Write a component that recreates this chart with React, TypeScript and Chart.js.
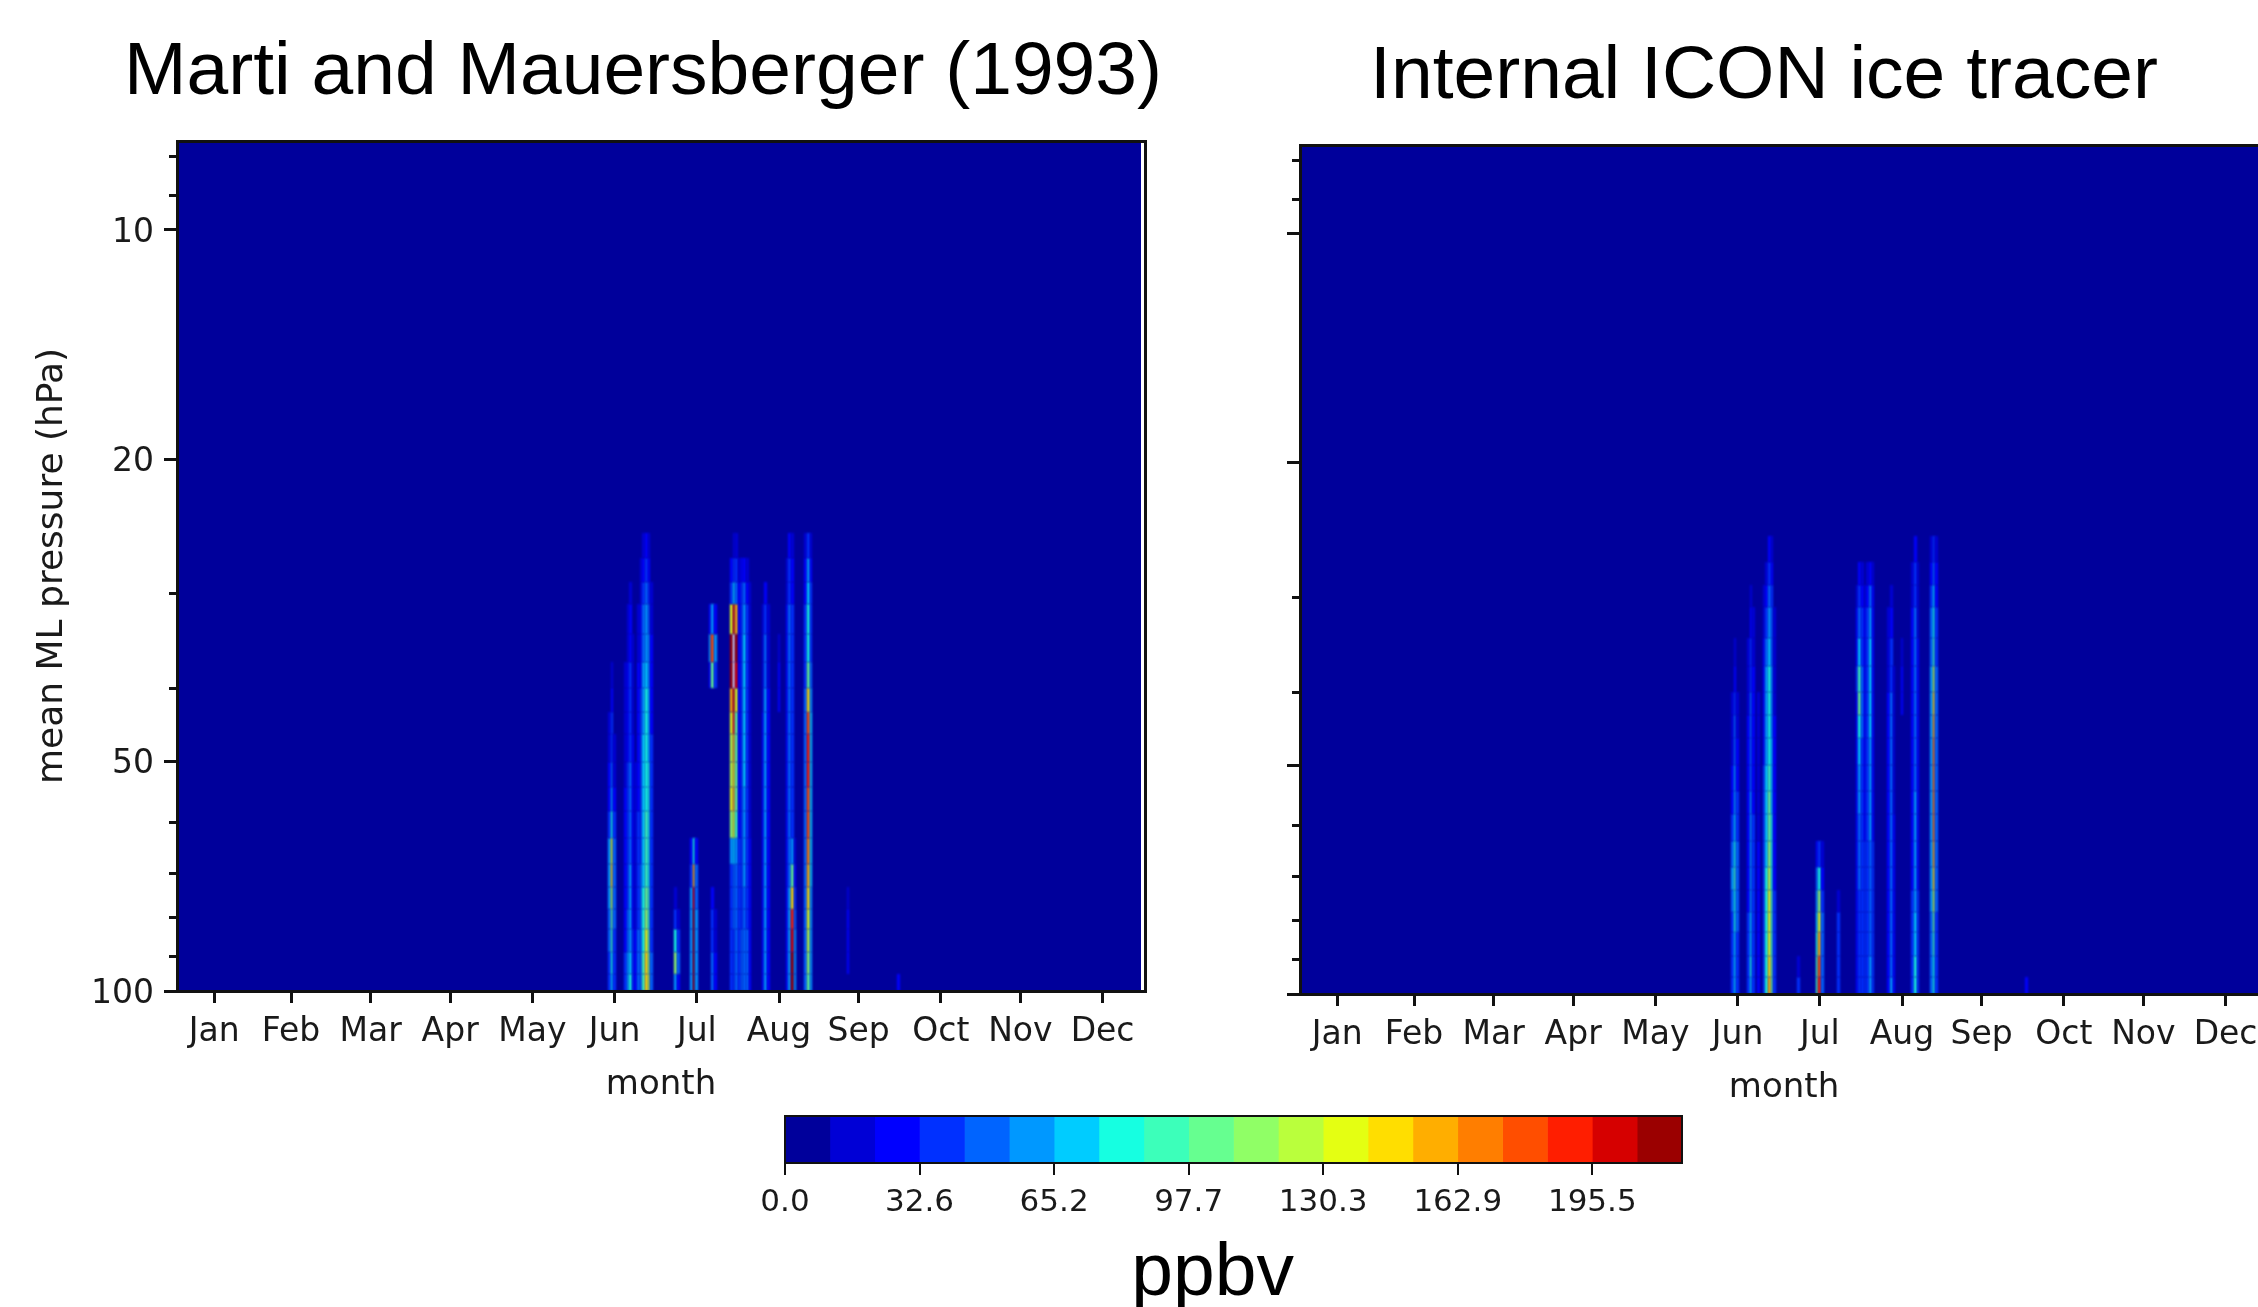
import { useEffect, useRef } from 'react';
import { Chart, registerables } from 'chart.js';

Chart.register(...registerables);

// ---------------- data ----------------
const MONTHS = ['Jan', 'Feb', 'Mar', 'Apr', 'May', 'Jun', 'Jul', 'Aug', 'Sep', 'Oct', 'Nov', 'Dec'];
const MONTH_TICK_DAYS = [14, 43, 73, 103, 134, 165, 196, 227, 257, 288, 318, 349];
const DAY_RANGE = [0, 365];
const FIELD_DAY_EXTENT = [0, 363.6];

const PRESSURE_RANGE = [7.64, 100];
const PRESSURE_MAJOR = [10, 20, 50, 100];
const PRESSURE_MINOR = [8, 9, 30, 40, 60, 70, 80, 90];
// edges of the model layers (hPa), bottom to top
const LEVEL_EDGES_HPA = [100, 95, 89, 83, 78, 73, 68, 63, 58, 54, 50, 46, 43, 40, 37, 34, 31, 29, 27, 25, 23, 21.5];

// contour levels of the colour bar (ppbv)
const PPBV_LEVELS = [0, 10.86, 21.72, 32.58, 43.44, 54.3, 65.16, 76.02, 86.88, 97.74, 108.6, 119.46, 130.32, 141.18, 152.04, 162.9, 173.76, 184.62, 195.48, 206.34, 217.2];
const CBAR_TICKS = [0, 32.58, 65.16, 97.74, 130.32, 162.9, 195.48];
const JET_COLORS = ['#00009b', '#0000d6', '#0000ff', '#0030ff', '#0064ff', '#0098ff', '#00ccff', '#16ffe1', '#3cffba', '#66ff90', '#90ff66', '#baff3c', '#e4ff12', '#ffde00', '#ffae00', '#ff7e00', '#ff4e00', '#ff1e00', '#d60000', '#9b0000'];

// Marti and Mauersberger (1993): day of year and ppbv per layer (bottom to top)
const MARTI_DAYS = [163, 164, 165, 169, 170, 171, 172, 173, 174, 175, 176, 177, 178, 179, 188, 189, 194, 195, 196, 201, 202, 203, 209, 210, 211, 212, 213, 214, 215, 216, 221, 222, 223, 227, 230, 231, 232, 233, 237, 238, 239, 253, 272];
const MARTI_PPBV = [
  [38, 38, 49, 49, 60, 60, 60, 38, 27, 27, 16, 16],
  [70, 81, 92, 103, 125, 147, 136, 81, 60, 49, 38, 38, 27, 16],
  [38, 38, 38, 49, 49, 49, 49, 38, 27, 16, 16],
  [38, 38, 27, 27, 27, 27, 27, 27, 27, 16, 16, 16, 16, 16],
  [60, 60, 49, 49, 38, 38, 38, 38, 38, 38, 27, 27, 27, 27, 16, 16],
  [81, 70, 60, 60, 60, 60, 49, 49, 49, 49, 38, 38, 38, 38, 27, 27, 16],
  [38, 38, 38, 27, 27, 27, 27, 27, 27, 27, 27, 16, 16, 16, 16],
  [27, 27, 27, 16, 16, 16, 16, 16, 16, 16],
  [49, 49, 49, 38, 38, 38, 38, 38, 27, 27, 27, 27, 27, 27, 16, 16],
  [49, 49, 49, 49, 49, 49, 38, 38, 38, 38, 38, 38, 38, 27, 27, 27, 16, 16],
  [92, 92, 81, 81, 81, 70, 70, 70, 70, 70, 70, 60, 60, 60, 49, 49, 38, 27, 16],
  [147, 147, 136, 114, 103, 92, 92, 92, 81, 81, 81, 81, 81, 70, 60, 60, 49, 38, 27],
  [125, 114, 103, 92, 92, 81, 81, 81, 81, 81, 70, 70, 70, 60, 60, 49, 38, 27, 16],
  [49, 49, 38, 38, 38, 38, 38, 38, 38, 38, 38, 27, 27, 27, 27, 16, 16],
  [60, 114, 81, 38, 16],
  [27, 49, 38, 16],
  [60, 60, 60, 60, 60, 38, 27],
  [212, 212, 212, 212, 201, 158, 81],
  [60, 60, 60, 60, 49, 49, 27],
  [0, 0, 0, 0, 0, 0, 0, 0, 0, 0, 0, 0, 0, 27, 60, 27],
  [49, 49, 38, 38, 27, 0, 0, 0, 0, 0, 0, 0, 0, 103, 179, 60],
  [27, 27, 16, 16, 0, 0, 0, 0, 0, 0, 0, 0, 0, 38, 60, 27],
  [38, 38, 38, 38, 38, 38, 60, 114, 136, 125, 125, 136, 158, 212, 212, 136, 38, 27],
  [38, 38, 38, 49, 49, 49, 70, 136, 158, 147, 158, 190, 201, 230, 230, 201, 70, 38, 16],
  [49, 49, 49, 49, 49, 49, 60, 92, 103, 103, 103, 103, 136, 201, 212, 158, 49, 38, 16],
  [38, 38, 38, 38, 38, 38, 38, 27, 27, 27, 27, 27, 27, 27, 27, 27, 27, 16],
  [49, 49, 49, 38, 38, 38, 38, 38, 38, 38, 38, 38, 38, 38, 38, 38, 38, 27],
  [49, 49, 49, 49, 49, 60, 60, 60, 60, 70, 70, 70, 70, 70, 70, 60, 49, 27],
  [49, 49, 49, 38, 38, 38, 38, 38, 38, 38, 38, 38, 38, 38, 38, 38, 27, 16],
  [27, 27, 27, 27, 27, 27, 27, 16, 16, 16, 16, 16, 16, 16, 16, 16, 16],
  [27, 27, 27, 27, 27, 27, 27, 27, 27, 27, 27, 27, 16, 16, 16, 16],
  [60, 60, 60, 60, 60, 60, 60, 60, 60, 60, 60, 60, 60, 49, 49, 38, 27],
  [27, 27, 27, 27, 27, 27, 27, 27, 27, 27, 27, 27, 27, 16, 16, 16],
  [0, 0, 0, 0, 0, 0, 0, 0, 0, 0, 0, 0, 27, 27, 16],
  [27, 27, 27, 27, 27, 27, 27, 27, 27, 27, 27, 27, 27, 27, 27, 27, 16, 16],
  [60, 60, 60, 60, 60, 49, 49, 49, 49, 49, 49, 49, 49, 49, 49, 49, 38, 38, 27],
  [212, 212, 201, 190, 147, 103, 60, 38, 38, 38, 38, 38, 38, 38, 38, 38, 27, 27, 16],
  [60, 60, 60, 49, 38, 27, 16],
  [49, 49, 49, 49, 49, 49, 49, 49, 49, 49, 49, 49, 49, 38, 38, 38, 27, 27, 16],
  [103, 114, 125, 136, 147, 158, 168, 179, 179, 190, 190, 179, 147, 103, 81, 81, 70, 60, 38],
  [60, 60, 60, 60, 60, 70, 70, 70, 70, 70, 70, 70, 60, 49, 38, 38, 38, 27, 16],
  [0, 27, 27, 27, 16],
  [27],
];

// Internal ICON ice tracer
const ICON_DAYS = [163, 164, 165, 169, 170, 171, 173, 175, 176, 177, 178, 179, 188, 195, 196, 197, 203, 210, 211, 212, 213, 214, 215, 216, 222, 223, 224, 227, 231, 232, 233, 238, 239, 240, 274];
const ICON_PPBV = [
  [38, 38, 38, 38, 49, 60, 49, 38, 27, 27, 16, 16, 16],
  [70, 70, 70, 81, 81, 92, 81, 70, 60, 60, 49, 49, 38, 27, 16],
  [38, 38, 38, 49, 49, 49, 49, 38, 38, 27, 27, 16, 16],
  [38, 38, 38, 38, 27, 27, 27, 27, 27, 27, 27, 27, 16, 16, 16],
  [70, 81, 70, 70, 60, 60, 60, 60, 60, 49, 49, 49, 49, 38, 38, 27, 16],
  [38, 38, 38, 38, 38, 38, 38, 38, 27, 27, 27, 27, 27, 27, 16, 16],
  [27, 27, 27, 27, 27, 27, 27, 16, 16, 16, 16, 16, 16],
  [38, 38, 38, 38, 38, 38, 38, 38, 38, 38, 27, 27, 27, 27, 27, 16, 16],
  [81, 81, 81, 81, 81, 81, 70, 70, 70, 70, 60, 60, 60, 60, 49, 38, 27, 16],
  [158, 147, 136, 136, 136, 125, 114, 103, 103, 92, 81, 81, 81, 81, 70, 60, 49, 38, 27],
  [103, 103, 92, 92, 92, 81, 81, 81, 70, 70, 70, 60, 60, 60, 49, 49, 38, 27, 16],
  [38, 38, 38, 38, 38, 27, 27, 27, 27, 27, 27, 27, 16, 16, 16, 16],
  [38, 16],
  [92, 92, 81, 70, 60, 49, 27],
  [190, 179, 158, 136, 114, 81, 38],
  [49, 49, 49, 49, 38, 27, 16],
  [38, 38, 38, 38, 16],
  [27, 27, 27, 27, 27, 27, 27, 27, 27, 27, 27, 27, 27, 38, 27, 27, 16],
  [38, 38, 38, 38, 38, 49, 49, 49, 60, 60, 70, 81, 103, 92, 70, 49, 38, 27],
  [38, 38, 38, 38, 38, 38, 38, 38, 38, 38, 38, 49, 49, 49, 38, 38, 27, 16],
  [38, 38, 38, 38, 38, 38, 38, 27, 27, 27, 27, 27, 27, 27, 27, 27, 16],
  [38, 38, 38, 38, 38, 38, 38, 38, 38, 38, 38, 38, 38, 38, 38, 38, 27, 16],
  [60, 60, 49, 49, 49, 49, 49, 60, 60, 60, 60, 70, 70, 70, 70, 60, 49, 27],
  [38, 38, 38, 38, 38, 38, 38, 27, 27, 27, 27, 27, 27, 27, 27, 27, 27, 16],
  [27, 27, 27, 27, 27, 27, 27, 27, 27, 27, 27, 27, 27, 16, 16, 16],
  [60, 49, 49, 49, 49, 49, 49, 49, 49, 49, 49, 49, 49, 38, 38, 27, 16],
  [27, 27, 27, 27, 27, 27, 27, 27, 16, 16, 16, 16, 16, 16],
  [0, 0, 0, 0, 0, 0, 0, 0, 0, 0, 0, 0, 27, 27, 16],
  [38, 38, 38, 38, 38, 27, 27, 27, 27, 27, 27, 27, 27, 27, 27, 27, 16, 16],
  [81, 81, 70, 70, 60, 60, 60, 60, 60, 49, 49, 49, 49, 49, 49, 49, 38, 38, 27],
  [38, 38, 38, 38, 38, 27, 27, 27, 27, 27, 27, 27, 27, 27, 27, 16, 16, 16],
  [49, 49, 49, 49, 60, 60, 60, 60, 60, 60, 60, 60, 60, 60, 49, 49, 38, 27, 16],
  [81, 81, 92, 103, 125, 147, 158, 168, 168, 168, 168, 158, 147, 125, 92, 81, 70, 49, 38],
  [38, 38, 38, 38, 49, 49, 49, 49, 49, 49, 49, 49, 49, 49, 38, 38, 27, 27, 16],
  [27],
];

// ---------------- helpers ----------------
const INK = '#1a1a1a';
const SPINE = '#111111';
const TICK_FONT = { family: 'DejaVu Sans', size: 33 };

function colorFor(v: number): string | null {
  if (v >= PPBV_LEVELS[PPBV_LEVELS.length - 1]) return '#ffffff';
  for (let k = JET_COLORS.length - 1; k >= 1; k--) {
    if (v >= PPBV_LEVELS[k]) return JET_COLORS[k];
  }
  return null;
}

function buildCells(days: number[], ppbv: number[][]) {
  const cells: any[] = [];
  days.forEach((d, j) => {
    ppbv[j].forEach((v, i) => {
      if (v > 0) {
        cells.push({ x: d, y: Math.sqrt(LEVEL_EDGES_HPA[i] * LEVEL_EDGES_HPA[i + 1]), v, level: i });
      }
    });
  });
  return cells;
}

const iceFieldPlugin = {
  id: 'iceField',
  beforeDatasetsDraw(chart: any, _args: any, opts: any) {
    const { ctx, chartArea: a } = chart;
    const xs = chart.scales.x;
    const ys = chart.scales.y;
    ctx.save();
    ctx.beginPath();
    ctx.rect(a.left, a.top, a.right - a.left, a.bottom - a.top);
    ctx.clip();
    const fx0 = Math.round(xs.getPixelForValue(opts.extent[0]));
    const fx1 = Math.round(xs.getPixelForValue(opts.extent[1]));
    ctx.fillStyle = JET_COLORS[0];
    ctx.fillRect(fx0, a.top, fx1 - fx0, a.bottom - a.top);
    ctx.filter = `blur(${opts.soften}px)`;
    for (const pt of chart.data.datasets[0].data) {
      const c = colorFor(pt.v);
      if (!c) continue;
      const xa = Math.round(xs.getPixelForValue(pt.x - 0.5));
      const xb = Math.round(xs.getPixelForValue(pt.x + 0.5));
      const ya = Math.round(ys.getPixelForValue(LEVEL_EDGES_HPA[pt.level]));
      const yb = Math.round(ys.getPixelForValue(LEVEL_EDGES_HPA[pt.level + 1]));
      ctx.fillStyle = c;
      ctx.fillRect(xa, Math.min(ya, yb), xb - xa, Math.abs(yb - ya));
    }
    ctx.filter = 'none';
    ctx.restore();
  },
};

const minorTicksPlugin = {
  id: 'minorTicks',
  afterDraw(chart: any, _args: any, opts: any) {
    const { ctx, chartArea: a } = chart;
    const ys = chart.scales.y;
    ctx.save();
    ctx.strokeStyle = opts.color;
    ctx.lineWidth = opts.width;
    for (const v of opts.values) {
      const y = Math.round(ys.getPixelForValue(v)) + 0.5;
      ctx.beginPath();
      ctx.moveTo(a.left - opts.length, y);
      ctx.lineTo(a.left, y);
      ctx.stroke();
    }
    ctx.restore();
  },
};

const cbarFramePlugin = {
  id: 'cbarFrame',
  afterDatasetsDraw(chart: any, _args: any, opts: any) {
    const { ctx, chartArea: a } = chart;
    ctx.save();
    ctx.strokeStyle = opts.color;
    ctx.lineWidth = opts.width;
    ctx.strokeRect(a.left, a.top, a.right - a.left, a.bottom - a.top);
    ctx.restore();
  },
};

type PanelSpec = {
  title: string;
  days: number[];
  ppbv: number[][];
  yLabels: boolean;
  titlePad: { top: number; bottom: number };
  yWidth: number;
  rightWidth: number;
  padBottom: number;
};

function panelConfig(spec: PanelSpec): any {
  const spine = { display: true, color: SPINE, width: 3, z: 1 };
  return {
    type: 'scatter',
    data: {
      datasets: [{ label: spec.title, data: buildCells(spec.days, spec.ppbv), pointRadius: 0, pointHoverRadius: 0, pointHitRadius: 0 }],
    },
    options: {
      animation: false,
      responsive: false,
      events: [],
      layout: { padding: { left: 0, right: 0, top: 0, bottom: spec.padBottom } },
      plugins: {
        legend: { display: false },
        tooltip: { enabled: false },
        title: {
          display: true,
          text: spec.title,
          color: '#000',
          font: { family: 'Liberation Sans', size: 75, lineHeight: 1, weight: 'normal' },
          padding: spec.titlePad,
        },
        iceField: { extent: FIELD_DAY_EXTENT, soften: 0.8 },
        minorTicks: { values: PRESSURE_MINOR, length: 8, width: 3, color: SPINE },
      },
      scales: {
        x: {
          type: 'linear',
          position: 'bottom',
          min: DAY_RANGE[0],
          max: DAY_RANGE[1],
          afterBuildTicks: (s: any) => { s.ticks = MONTH_TICK_DAYS.map((v) => ({ value: v })); },
          afterFit: (s: any) => { s.height = 120; },
          ticks: { autoSkip: false, maxRotation: 0, minRotation: 0, padding: 10, color: INK, font: TICK_FONT, callback: (_v: any, i: number) => MONTHS[i] },
          grid: { display: true, drawOnChartArea: false, drawTicks: true, tickLength: 12, lineWidth: 3, tickWidth: 3, tickColor: SPINE },
          border: spine,
          title: { display: true, text: 'month', color: INK, font: { family: 'DejaVu Sans', size: 34, lineHeight: 1.2 }, padding: { top: 5.6, bottom: 5.6 } },
        },
        xTop: {
          type: 'linear',
          position: 'top',
          min: DAY_RANGE[0],
          max: DAY_RANGE[1],
          ticks: { display: false },
          grid: { display: false, drawTicks: false, lineWidth: 3 },
          border: spine,
          afterFit: (s: any) => { s.height = 0; },
        },
        y: {
          type: 'logarithmic',
          position: 'left',
          reverse: true,
          min: PRESSURE_RANGE[0],
          max: PRESSURE_RANGE[1],
          afterBuildTicks: (s: any) => { s.ticks = PRESSURE_MAJOR.map((v) => ({ value: v })); },
          afterFit: (s: any) => { s.width = spec.yWidth; },
          ticks: { autoSkip: false, padding: 10, labelOffset: 3, color: INK, font: TICK_FONT, callback: (v: any) => (spec.yLabels ? String(v) : '') },
          grid: { display: true, drawOnChartArea: false, drawTicks: true, tickLength: 13, lineWidth: 3, tickWidth: 3, tickColor: SPINE },
          border: spine,
          title: {
            display: spec.yLabels,
            text: 'mean ML pressure (hPa)',
            color: INK,
            font: { family: 'DejaVu Sans', size: 36, lineHeight: 1.2 },
            padding: { top: 31, bottom: 0 },
          },
        },
        yRight: {
          type: 'logarithmic',
          position: 'right',
          reverse: true,
          min: PRESSURE_RANGE[0],
          max: PRESSURE_RANGE[1],
          ticks: { display: false },
          grid: { display: false, drawTicks: false, lineWidth: 3 },
          border: spine,
          afterFit: (s: any) => { s.width = spec.rightWidth; },
        },
      },
    },
    plugins: [iceFieldPlugin, minorTicksPlugin],
  };
}

function colorbarConfig(): any {
  return {
    type: 'bar',
    data: {
      labels: ['ppbv'],
      datasets: JET_COLORS.map((c, i) => ({
        label: `${PPBV_LEVELS[i]}-${PPBV_LEVELS[i + 1]}`,
        data: [[PPBV_LEVELS[i], PPBV_LEVELS[i + 1]]],
        backgroundColor: c,
        borderWidth: 0,
        grouped: false,
        barPercentage: 1,
        categoryPercentage: 1,
      })),
    },
    options: {
      indexAxis: 'y',
      animation: false,
      responsive: false,
      events: [],
      layout: { padding: { left: 85, right: 118, top: 36, bottom: 9 } },
      plugins: {
        legend: { display: false },
        tooltip: { enabled: false },
        cbarFrame: { color: SPINE, width: 2 },
      },
      scales: {
        x: {
          type: 'linear',
          position: 'bottom',
          min: PPBV_LEVELS[0],
          max: PPBV_LEVELS[PPBV_LEVELS.length - 1],
          afterBuildTicks: (s: any) => { s.ticks = CBAR_TICKS.map((v) => ({ value: v })); },
          afterFit: (s: any) => { s.height = 149; },
          ticks: { autoSkip: false, maxRotation: 0, padding: 9, color: INK, font: { family: 'DejaVu Sans', size: 31 }, callback: (v: any) => Number(v).toFixed(1) },
          grid: { display: true, drawOnChartArea: false, drawTicks: true, tickLength: 12, lineWidth: 2, tickColor: SPINE },
          border: { display: true, color: SPINE, width: 2, z: 1 },
          title: {
            display: true,
            text: 'ppbv\u00a0\u00a0',
            color: '#000',
            font: { family: 'Liberation Sans', size: 75, lineHeight: 1 },
            padding: { top: 0, bottom: 0.5 },
          },
        },
        y: { type: 'category', display: false },
      },
    },
    plugins: [cbarFramePlugin],
  };
}

const LEFT_SPEC: PanelSpec = {
  title: 'Marti and Mauersberger (1993)',
  days: MARTI_DAYS,
  ppbv: MARTI_PPBV,
  yLabels: true,
  titlePad: { top: 36, bottom: 30 },
  yWidth: 177,
  rightWidth: 141,
  padBottom: 19,
};

const RIGHT_SPEC: PanelSpec = {
  title: 'Internal ICON ice tracer',
  days: ICON_DAYS,
  ppbv: ICON_PPBV,
  yLabels: false,
  titlePad: { top: 40, bottom: 30 },
  yWidth: 200,
  rightWidth: 160,
  padBottom: 16,
};

export default function App() {
  const leftRef = useRef<HTMLCanvasElement>(null);
  const rightRef = useRef<HTMLCanvasElement>(null);
  const cbarRef = useRef<HTMLCanvasElement>(null);

  useEffect(() => {
    document.body.style.margin = '0';
    const charts = [
      new Chart(leftRef.current as HTMLCanvasElement, panelConfig(LEFT_SPEC)),
      new Chart(rightRef.current as HTMLCanvasElement, panelConfig(RIGHT_SPEC)),
      new Chart(cbarRef.current as HTMLCanvasElement, colorbarConfig()),
    ];
    return () => charts.forEach((c) => c.destroy());
  }, []);

  return (
    <div style={{ position: 'fixed', left: 0, top: 0, width: 2258, height: 1307, overflow: 'hidden', background: '#ffffff' }}>
      <canvas ref={leftRef} width={1286} height={1130} style={{ position: 'absolute', left: 0, top: 0, width: 1286, height: 1130 }} />
      <canvas ref={rightRef} width={1328} height={1130} style={{ position: 'absolute', left: 1100, top: 0, width: 1328, height: 1130 }} />
      <canvas ref={cbarRef} width={1100} height={241} style={{ position: 'absolute', left: 700, top: 1080, width: 1100, height: 241 }} />
    </div>
  );
}
